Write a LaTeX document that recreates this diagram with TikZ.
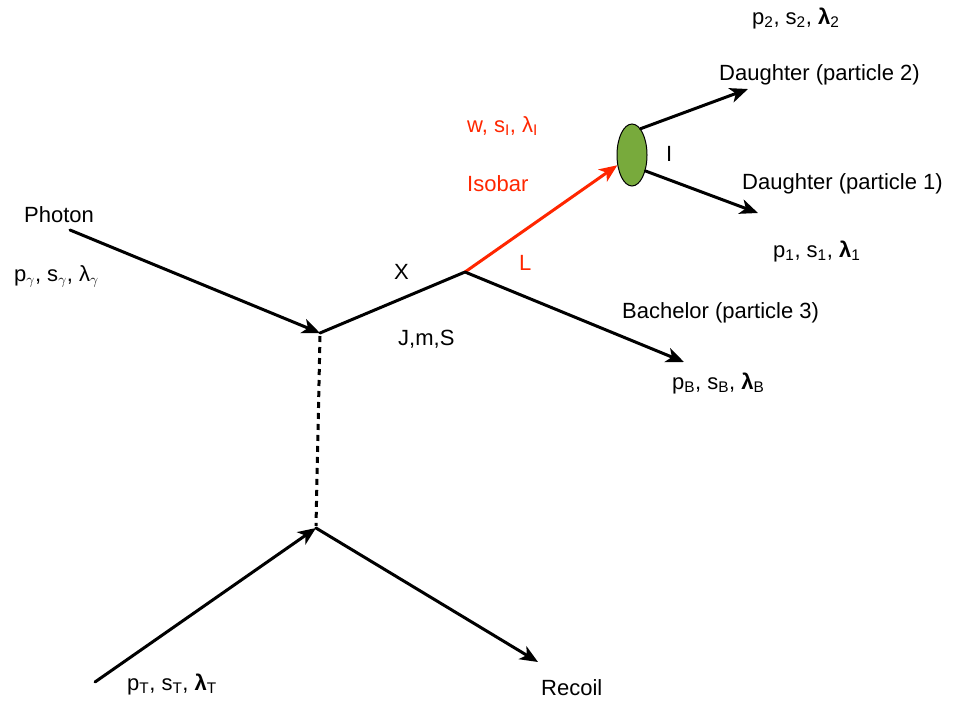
\documentclass[tikz,border=0pt]{standalone}
\usepackage{fontspec}
\setmainfont{Liberation Sans}
\usetikzlibrary{arrows.meta}
\usetikzlibrary{shapes.geometric}
\usepackage{xcolor}
\definecolor{isored}{RGB}{255,38,0}
\definecolor{isogreen}{RGB}{120,170,60}

\begin{document}
\begin{tikzpicture}[x=1pt,y=-1pt,
    leg/.style={line width=3pt,line cap=round,-{Stealth[length=18pt,width=15pt,inset=5pt]}},
    plain/.style={line width=3pt,line cap=round},
    lbl/.style={font=\fontsize{22}{26}\selectfont,inner sep=0pt,anchor=base west},
    redlbl/.style={lbl,text=isored}]
        \useasboundingbox (0,0) rectangle (953,702);
        % vertices
        \coordinate (photin) at (70,230);
        \coordinate (vx) at (320,333);
        \coordinate (vdec) at (465,272);
        \coordinate (vlow) at (316,528);
        \coordinate (tgtin) at (95,682);
        \coordinate (recoil) at (538,662);
        \coordinate (bach) at (684,362);
        \coordinate (d2) at (748,89);
        \coordinate (d1) at (758,213);
        \node[ellipse,draw,line width=1pt,fill=isogreen,minimum width=30pt,minimum height=62pt,inner sep=0pt] (iso) at (632,155) {};
        % lines
        \draw[leg] (photin) -- (vx);
        \draw[plain] (vx) -- (vdec);
        \draw[leg,isored] (vdec) -- (iso);
        \draw[leg] (vdec) -- (bach);
        \draw[leg] (iso.72) -- (d2);
        \draw[leg] (iso.-50) -- (d1);
        \path (vx) ++(0,3) coordinate (dtop) (vlow) ++(0,-2) coordinate (dbot);
        \draw[plain,line cap=butt,dash pattern=on 6pt off 5pt] (dtop) -- (dbot);
        \draw[leg] (tgtin) -- (vlow);
        \draw[leg] (vlow) -- (recoil);
        % labels
        \node[lbl] (photon) at (24,222) {Photon};
        \node[lbl] (kinph) at (14,281) {p$_{\gamma}$, s$_{\gamma}$, λ$_{\gamma}$};
        \node[lbl] (xlbl) at (394,279) {X};
        \node[lbl] (jms) at (398,345) {J,m,S};
        \node[redlbl] (kiniso) at (467,132) {w, s\textsubscript{I}, λ\textsubscript{I}};
        \node[redlbl] (isobar) at (467,191) {Isobar};
        \node[redlbl] (llbl) at (519,270) {L};
        \node[lbl] (ilbl) at (666,161) {I};
        \node[lbl] (kin2) at (752,24) {p\textsubscript{2}, s\textsubscript{2}, \textbf{λ}\textsubscript{2}};
        \node[lbl] (dau2) at (719,80) {Daughter (particle 2)};
        \node[lbl] (dau1) at (742,189) {Daughter (particle 1)};
        \node[lbl] (kin1) at (773,257) {p\textsubscript{1}, s\textsubscript{1}, \textbf{λ}\textsubscript{1}};
        \node[lbl] (bachlbl) at (622,318) {Bachelor (particle 3)};
        \node[lbl] (kinb) at (672,389) {p\textsubscript{B}, s\textsubscript{B}, \textbf{λ}\textsubscript{B}};
        \node[lbl] (kint) at (127,690) {p\textsubscript{T}, s\textsubscript{T}, \textbf{λ}\textsubscript{T}};
        \node[lbl] (recoillbl) at (541,695) {Recoil};
      \end{tikzpicture}
\end{document}
